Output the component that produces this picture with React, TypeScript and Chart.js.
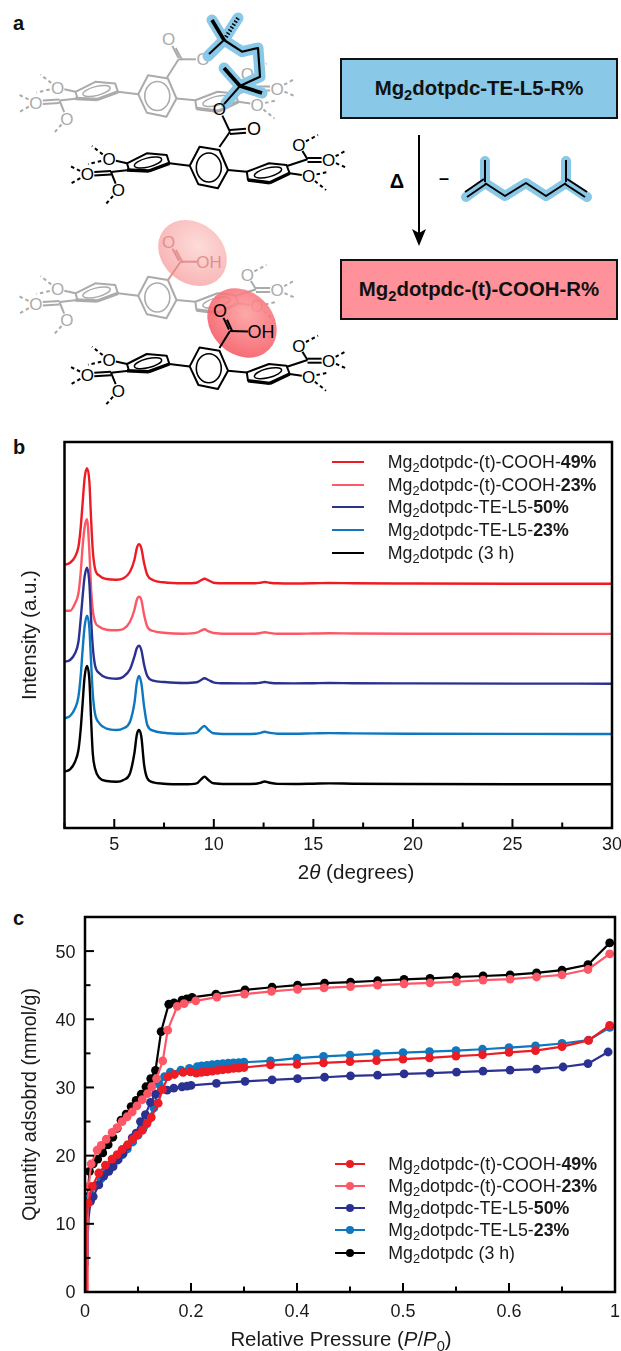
import React, { useEffect, useRef } from "react";
import { Chart, registerables } from "chart.js";

Chart.register(...registerables);

const FONT = '"Liberation Sans", Arial, sans-serif';
const RED = "#ED1C24";
const PINK = "#FD5766";
const NAVY = "#2B3190";
const BLUE = "#0F77C0";
const BLACK = "#000000";

/* ---------- panel b: diffraction patterns ---------- */
const twoTheta = [2.5, 2.78, 3.03, 3.2, 3.31, 3.41, 3.51, 3.63, 3.75, 3.83, 3.92, 4.03, 4.25, 4.62, 5.12, 5.46, 5.79, 6.01, 6.13, 6.24, 6.36, 6.5, 6.66, 6.96, 7.47, 8.47, 9.14, 9.36, 9.53, 9.73, 9.98, 10.65, 11.5, 12.1, 12.35, 12.55, 12.8, 13.2, 14, 15, 15.8, 17, 20, 25, 30];
const pxrdCooh49 = [263, 265.3, 271.3, 281.3, 299.7, 324.7, 349.7, 359.7, 346.3, 311.3, 278, 259.7, 252.3, 249, 248.3, 249.7, 256.3, 268, 279.7, 283.7, 279.7, 264.7, 253, 247.7, 245.7, 244.7, 245.3, 247.7, 249.3, 247.7, 245.3, 244.7, 244.7, 244.7, 245.3, 246, 245.3, 244.7, 244.5, 244.7, 245, 244.7, 244.5, 244.3, 244.2];
const pxrdCooh23 = [217.3, 217.3, 224.7, 234.7, 254.7, 281.3, 300.7, 308.7, 276.3, 241.3, 218, 206.3, 201.3, 198.3, 197.7, 199, 206.3, 218, 228, 231.3, 228, 213, 201.3, 197, 195.3, 194.3, 195.3, 197.3, 198.7, 196.7, 195, 194.3, 194.3, 194.3, 195, 195.7, 195, 194.3, 194.2, 194.5, 194.7, 194.5, 194.3, 194.2, 194.1];
const pxrdTe50 = [166.3, 168, 174.7, 186.3, 208, 231.3, 251.3, 260.3, 244.7, 211.3, 181.3, 163, 154.7, 150.3, 149.3, 151.3, 158.7, 171.3, 179.7, 182.3, 178, 163, 152, 147.3, 146, 145, 145.7, 148, 149.7, 148, 145.7, 144.7, 144.6, 144.7, 145.3, 146, 145.3, 144.7, 144.6, 144.8, 145, 144.8, 144.6, 144.4, 144.3];
const pxrdTe23 = [109.7, 112, 119.7, 131.3, 151.3, 178, 201.3, 212.3, 199.7, 168, 134.7, 114.7, 104.7, 99.3, 98, 99.7, 106.3, 124.7, 144.7, 152, 144.7, 121.3, 103, 97.3, 95.3, 94.3, 95.3, 99.7, 102, 98, 94.7, 94, 94, 94.2, 95.2, 96.2, 95.2, 94.3, 94.2, 94.6, 94.9, 94.6, 94.3, 94.1, 94];
const pxrdParent = [56.3, 58.7, 66.3, 78, 98, 124.7, 151.3, 162, 148, 111.3, 74.7, 59.7, 50.3, 47, 46.3, 48, 54.7, 74.7, 93, 98, 91.3, 63, 49.7, 45.7, 44.3, 43.7, 44.7, 48.7, 51.3, 48, 44.7, 44, 44, 44.2, 45.2, 46.5, 45.2, 44.1, 44, 44.3, 44.6, 44.3, 44, 43.8, 43.7];

/* ---------- panel c: isotherms ---------- */
const pressureTickLabels = ["0", "", "0.2", "", "0.4", "", "0.5", "", "0.6", "", "1"];

const xIsoCooh49 = [0.002, 0.002, 0.002, 0.003, 0.006, 0.014, 0.026, 0.0386, 0.051, 0.0607, 0.07, 0.0807, 0.09, 0.098, 0.108, 0.117, 0.125, 0.138, 0.146, 0.157, 0.1686, 0.185, 0.199, 0.21, 0.22, 0.23, 0.24, 0.25, 0.26, 0.27, 0.28, 0.29, 0.3, 0.35, 0.4, 0.45, 0.5, 0.55, 0.6, 0.65, 0.7, 0.75, 0.8, 0.85, 0.9, 0.95, 0.99];
const yIsoCooh49 = [0, 4, 8, 11, 13, 15.5, 17.45, 18.6, 19.5, 20.15, 20.9, 21.6, 22.4, 23, 23.7, 24.7, 25.6, 27.7, 29.7, 31.6, 31.9, 32.2, 32.3, 32.1, 32.2, 32.3, 32.4, 32.5, 32.6, 32.7, 32.8, 32.85, 32.93, 33.3, 33.4, 33.6, 33.8, 33.95, 34.15, 34.35, 34.6, 34.8, 35.15, 35.4, 36, 36.9, 39.1];

const xIsoCooh23 = [0.005, 0.005, 0.005, 0.005, 0.005, 0.007, 0.0117, 0.023, 0.0305, 0.04, 0.0512, 0.0607, 0.07, 0.0795, 0.089, 0.098, 0.108, 0.118, 0.126, 0.135, 0.1467, 0.156, 0.174, 0.187, 0.209, 0.249, 0.301, 0.352, 0.401, 0.451, 0.501, 0.552, 0.602, 0.651, 0.701, 0.751, 0.802, 0.852, 0.9, 0.949, 0.99];
const yIsoCooh23 = [0, 3, 6, 9, 12, 15.5, 18.8, 20.8, 21.5, 22.4, 23.4, 24.1, 25, 25.7, 26.4, 27.3, 28.2, 29.1, 30.1, 31.3, 33.9, 38.4, 41.9, 42.3, 42.7, 43.25, 43.7, 44.1, 44.4, 44.6, 44.8, 45, 45.2, 45.35, 45.5, 45.75, 45.9, 46.2, 46.5, 47.3, 49.6];

const xIsoTe50 = [0.003, 0.004, 0.005, 0.007, 0.0104, 0.0155, 0.026, 0.0355, 0.045, 0.053, 0.0626, 0.072, 0.0795, 0.089, 0.0965, 0.1046, 0.114, 0.1235, 0.133, 0.155, 0.1675, 0.183, 0.1925, 0.2, 0.248, 0.302, 0.353, 0.401, 0.452, 0.501, 0.552, 0.602, 0.651, 0.701, 0.751, 0.802, 0.852, 0.902, 0.949, 0.987];
const yIsoTe50 = [0, 4, 8, 11, 13.3, 14, 15.7, 17, 17.7, 18.4, 19.4, 20.3, 21.4, 22.6, 23.3, 25, 26, 27.8, 29, 29.6, 29.9, 30.1, 30.2, 30.3, 30.6, 30.9, 31.1, 31.3, 31.5, 31.7, 31.8, 32, 32.1, 32.25, 32.4, 32.55, 32.7, 33, 33.5, 35.2];

const xIsoTe23 = [0.003, 0.004, 0.005, 0.01, 0.02, 0.03, 0.04, 0.05, 0.06, 0.07, 0.08, 0.09, 0.1, 0.11, 0.12, 0.13, 0.14, 0.15, 0.161, 0.181, 0.197, 0.212, 0.22, 0.23, 0.24, 0.25, 0.26, 0.27, 0.28, 0.29, 0.3, 0.35, 0.4, 0.45, 0.5, 0.55, 0.6, 0.65, 0.7, 0.75, 0.8, 0.85, 0.9, 0.95, 0.99];
const yIsoTe23 = [0, 5, 12, 14, 15.6, 16.6, 17.6, 18.5, 19.3, 20.1, 21, 22, 23, 24, 25.3, 27, 30.5, 31.6, 32.25, 32.55, 32.8, 33.05, 33.15, 33.25, 33.35, 33.4, 33.5, 33.55, 33.6, 33.65, 33.7, 33.9, 34.3, 34.55, 34.75, 34.95, 35.1, 35.25, 35.4, 35.6, 35.85, 36.1, 36.45, 36.95, 38.8];

const xIsoParent = [0.002, 0.003, 0.004, 0.005, 0.0085, 0.0155, 0.024, 0.0336, 0.0437, 0.0525, 0.0607, 0.068, 0.0776, 0.087, 0.0965, 0.106, 0.115, 0.124, 0.133, 0.1436, 0.158, 0.168, 0.183, 0.192, 0.202, 0.247, 0.302, 0.353, 0.401, 0.452, 0.501, 0.552, 0.602, 0.651, 0.701, 0.751, 0.802, 0.852, 0.9, 0.949, 0.99];
const yIsoParent = [0, 4, 9, 14, 17.7, 18.8, 19.5, 20.4, 21.6, 22.7, 24, 25.2, 26.1, 27.2, 28.1, 29, 30.1, 31.3, 32.5, 38.2, 42.2, 42.4, 42.8, 43, 43.2, 43.7, 44.3, 44.7, 45, 45.3, 45.45, 45.65, 45.85, 46, 46.2, 46.35, 46.5, 46.8, 47.2, 48, 51.2];

/* ---------- legends ---------- */
const legendStems = ["-(t)-COOH-", "-(t)-COOH-", "-TE-L5-", "-TE-L5-", " (3 h)"];
const legendBold = ["49%", "23%", "50%", "23%", ""];
const legendColors = [RED, PINK, NAVY, BLUE, BLACK];

const zip = (xs: number[], ys: number[]) => xs.map((x, i) => ({ x, y: ys[i] }));

const frameAndTicks = {
  id: "frameAndTicks",
  afterDraw(chart: any) {
    const { ctx, chartArea: a, scales } = chart;
    ctx.save();
    ctx.strokeStyle = "#000";
    ctx.lineCap = "butt";
    ctx.lineWidth = 2;
    const major = 9;
    const minor = 5.5;
    scales.x.ticks.forEach((t: any) => {
      const px = scales.x.getPixelForValue(t.value);
      const len = t.label ? major : minor;
      ctx.beginPath();
      ctx.moveTo(px, a.bottom);
      ctx.lineTo(px, a.bottom - len);
      ctx.stroke();
    });
    if (scales.y.options.ticks.display) {
      scales.y.ticks.forEach((t: any) => {
        const py = scales.y.getPixelForValue(t.value);
        const len = t.label ? major : minor;
        ctx.beginPath();
        ctx.moveTo(a.left, py);
        ctx.lineTo(a.left + len, py);
        ctx.stroke();
      });
    }
    ctx.lineWidth = 2.5;
    ctx.strokeRect(a.left, a.top, a.right - a.left, a.bottom - a.top);
    ctx.restore();
  },
};

function tickFont() {
  return { family: FONT, size: 18 };
}
const noMargins = (h: number | null, w: number | null) => (s: any) => {
  if (h !== null) s.height = h;
  if (w !== null) s.width = w;
  s.paddingLeft = 0;
  s.paddingRight = 0;
  s.paddingTop = 0;
  s.paddingBottom = 0;
};

function PxrdChart() {
  const ref = useRef<HTMLCanvasElement>(null);
  useEffect(() => {
    const sets = [
      { label: "Mg2dotpdc (3 h)", data: pxrdParent, color: BLACK },
      { label: "Mg2dotpdc-TE-L5-23%", data: pxrdTe23, color: BLUE },
      { label: "Mg2dotpdc-TE-L5-50%", data: pxrdTe50, color: NAVY },
      { label: "Mg2dotpdc-(t)-COOH-23%", data: pxrdCooh23, color: PINK },
      { label: "Mg2dotpdc-(t)-COOH-49%", data: pxrdCooh49, color: RED },
    ];
    const chart = new Chart(ref.current!, {
      type: "line",
      data: {
        datasets: sets.map((s) => ({
          label: s.label,
          data: zip(twoTheta, s.data),
          borderColor: s.color,
          borderWidth: 2.4,
          pointRadius: 0,
          cubicInterpolationMode: "monotone" as const,
        })),
      },
      options: {
        animation: false,
        responsive: false,
        events: [],
        layout: { padding: { left: 0, right: 9, top: 12, bottom: 0 } },
        plugins: { legend: { display: false }, tooltip: { enabled: false } },
        scales: {
          x: {
            type: "linear",
            min: 2.5,
            max: 30,
            afterFit: noMargins(72, null),
            grid: { display: false, drawTicks: false },
            border: { display: false },
            ticks: {
              stepSize: 2.5,
              autoSkip: false,
              maxRotation: 0,
              padding: 6,
              color: "#1a1a1a",
              font: tickFont(),
              callback: (v: any) => (Number(v) % 5 === 0 ? String(v) : ""),
            },
          },
          y: {
            min: 0,
            max: 386,
            afterFit: noMargins(null, 64.5),
            grid: { display: false, drawTicks: false },
            border: { display: false },
            ticks: { display: false },
            title: {
              display: true,
              text: "Intensity (a.u.)",
              color: "#1a1a1a",
              font: { family: FONT, size: 20.5 },
              padding: { top: 18, bottom: 0 },
            },
          },
        },
      },
      plugins: [frameAndTicks],
    } as any);
    return () => chart.destroy();
  }, []);
  return <canvas ref={ref} width={621} height={470} style={{ position: "absolute", left: 0, top: 430, display: "block" }} />;
}

function IsothermChart() {
  const ref = useRef<HTMLCanvasElement>(null);
  useEffect(() => {
    const sets = [
      { label: "Mg2dotpdc-(t)-COOH-49%", xs: xIsoCooh49, ys: yIsoCooh49, color: RED },
      { label: "Mg2dotpdc-(t)-COOH-23%", xs: xIsoCooh23, ys: yIsoCooh23, color: PINK },
      { label: "Mg2dotpdc-TE-L5-50%", xs: xIsoTe50, ys: yIsoTe50, color: NAVY },
      { label: "Mg2dotpdc-TE-L5-23%", xs: xIsoTe23, ys: yIsoTe23, color: BLUE },
      { label: "Mg2dotpdc (3 h)", xs: xIsoParent, ys: yIsoParent, color: BLACK },
    ];
    const chart = new Chart(ref.current!, {
      type: "line",
      data: {
        datasets: sets.map((s) => ({
          label: s.label,
          data: zip(s.xs, s.ys),
          borderColor: s.color,
          backgroundColor: s.color,
          borderWidth: 2.2,
          pointBorderWidth: 0,
          pointRadius: (c: any) => ((c.raw?.y ?? 0) < 12.5 ? 0 : 4.4),
          tension: 0,
        })),
      },
      options: {
        animation: false,
        responsive: false,
        events: [],
        layout: { padding: { left: 0, right: 6, top: 12, bottom: 0 } },
        plugins: { legend: { display: false }, tooltip: { enabled: false } },
        scales: {
          x: {
            type: "linear",
            min: 0,
            max: 1,
            afterFit: noMargins(59, null),
            grid: { display: false, drawTicks: false },
            border: { display: false },
            ticks: {
              stepSize: 0.1,
              autoSkip: false,
              maxRotation: 0,
              padding: 9.5,
              color: "#1a1a1a",
              font: tickFont(),
              callback: (v: any) => pressureTickLabels[Math.round(Number(v) * 10)],
            },
          },
          y: {
            min: 0,
            max: 55,
            afterFit: noMargins(null, 85),
            grid: { display: false, drawTicks: false },
            border: { display: false },
            ticks: {
              stepSize: 5,
              autoSkip: false,
              padding: 9.5,
              labelOffset: 1.5,
              color: "#1a1a1a",
              font: tickFont(),
              callback: (v: any) => (Number(v) % 10 === 0 ? String(v) : ""),
            },
            title: {
              display: true,
              text: "Quantity adsobrd (mmol/g)",
              color: "#1a1a1a",
              font: { family: FONT, size: 19.7 },
              padding: { top: 19, bottom: 0 },
            },
          },
        },
      },
      plugins: [frameAndTicks],
    } as any);
    return () => chart.destroy();
  }, []);
  return <canvas ref={ref} width={621} height={446} style={{ position: "absolute", left: 0, top: 905, display: "block" }} />;
}

const subStyle: React.CSSProperties = { fontSize: "72%", verticalAlign: "-0.32em", lineHeight: 0 };

function MgName({ stem, bold }: { stem: string; bold: string }) {
  return (
    <>
      Mg<sub style={subStyle}>2</sub>dotpdc{stem}
      {bold ? <b>{bold}</b> : null}
    </>
  );
}

function Legend({ ys, lineLeft, lineRight, textLeft, marker }: { ys: number[]; lineLeft: number; lineRight: number; textLeft: number; marker: boolean }) {
  return (
    <>
      {ys.map((y, i) => (
        <React.Fragment key={i}>
          <div style={{ position: "absolute", left: lineLeft, top: y - 1.2, width: lineRight - lineLeft, height: 2.4, background: legendColors[i] }} />
          {marker ? (
            <div style={{ position: "absolute", left: (lineLeft + lineRight) / 2 - 4, top: y - 4, width: 8, height: 8, borderRadius: 4, background: legendColors[i] }} />
          ) : null}
          <div style={{ position: "absolute", left: textLeft, top: y - 10, lineHeight: "20px", fontSize: 17.8, color: "#1a1a1a", whiteSpace: "pre" }}>
            <MgName stem={legendStems[i]} bold={legendBold[i]} />
          </div>
        </React.Fragment>
      ))}
    </>
  );
}

/* ---------- panel a: chemical scheme (plain SVG, not data) ---------- */
type Pt = [number, number];
function Bond({ a, b, ta = 0, tb = 0, w = 2, dash, color = "currentColor" }: { a: Pt; b: Pt; ta?: number; tb?: number; w?: number; dash?: string; color?: string }) {
  const dx = b[0] - a[0];
  const dy = b[1] - a[1];
  const l = Math.hypot(dx, dy) || 1;
  return (
    <line x1={a[0] + (dx / l) * ta} y1={a[1] + (dy / l) * ta} x2={b[0] - (dx / l) * tb} y2={b[1] - (dy / l) * tb} stroke={color} strokeWidth={w} strokeDasharray={dash} />
  );
}
function Atom({ p, t, size = 17 }: { p: Pt; t: string; size?: number }) {
  return (
    <text x={p[0]} y={p[1] + size * 0.36} textAnchor="middle" fontSize={size} fontFamily={FONT} fill="currentColor">
      {t}
    </text>
  );
}
function Poly({ pts, w = 2 }: { pts: Pt[]; w?: number }) {
  return <polygon points={pts.map((p) => p.join(",")).join(" ")} fill="none" stroke="currentColor" strokeWidth={w} strokeLinejoin="round" />;
}
function Linker({ dx, dy, color }: { dx: number; dy: number; color: string }) {
  const D = "3.5 3";
  return (
    <g transform={`translate(${dx} ${dy})`} style={{ color }}>
      <Poly pts={[[189.7, 165.7], [199.6, 146.7], [219.4, 150], [228, 170], [217.9, 188.3], [198.4, 184.3]]} />
      <ellipse cx={208.8} cy={167.5} rx={12.5} ry={14.5} fill="none" stroke="currentColor" strokeWidth={1.6} />
      <Bond a={[228, 170]} b={[246.8, 171.7]} />
      <Poly pts={[[246.8, 171.7], [269, 163.3], [286.5, 165], [289.7, 173.3], [269.8, 182.7], [248, 180]]} />
      <Bond a={[248, 180]} b={[269.8, 182.7]} w={3.4} />
      <Bond a={[269.8, 182.7]} b={[289.7, 173.3]} w={3.4} />
      <ellipse cx={268} cy={172.5} rx={14} ry={4.5} transform="rotate(-14 268 172.5)" fill="none" stroke="currentColor" strokeWidth={1.5} />
      <Bond a={[287, 166]} b={[307.5, 159.3]} w={2.2} />
      <Bond a={[307.5, 159.3]} b={[298.8, 145]} tb={7} />
      <Bond a={[307.5, 158]} b={[328.6, 158]} tb={7} />
      <Bond a={[307.5, 162]} b={[328.6, 162]} tb={7} />
      <Bond a={[289.7, 173.3]} b={[308.7, 176]} tb={7} />
      <Atom p={[298.8, 145]} t="O" />
      <Atom p={[328.6, 160]} t="O" />
      <Atom p={[308.7, 176]} t="O" />
      <Bond a={[298.8, 145]} b={[318, 135]} ta={8} dash={D} />
      <Bond a={[328.6, 160]} b={[347, 150]} ta={8} dash={D} />
      <Bond a={[328.6, 160]} b={[347, 168]} ta={8} dash={D} />
      <Bond a={[308.7, 176]} b={[328, 172]} ta={8} dash={D} />
      <Bond a={[308.7, 176]} b={[326, 190]} ta={8} dash={D} />

      <Bond a={[189.7, 165.7]} b={[169.4, 163.3]} />
      <Poly pts={[[169.4, 163.3], [148.8, 171], [129, 170], [127, 163.3], [146.8, 153.3], [166.7, 155]]} />
      <Bond a={[127, 170]} b={[148.8, 171]} w={3.4} />
      <Bond a={[148.8, 171]} b={[169.4, 163.3]} w={3.4} />
      <ellipse cx={148} cy={162.5} rx={14} ry={4.5} transform="rotate(-14 148 162.5)" fill="none" stroke="currentColor" strokeWidth={1.5} />
      <Bond a={[127, 163.3]} b={[109, 159.3]} tb={7} />
      <Bond a={[129, 170]} b={[111, 172]} />
      <Bond a={[111, 171]} b={[87.3, 172.5]} tb={7} />
      <Bond a={[111, 174.5]} b={[87.3, 176]} tb={7} />
      <Bond a={[111, 172]} b={[118.3, 190]} tb={7} />
      <Atom p={[109, 159.3]} t="O" />
      <Atom p={[87.3, 174.3]} t="O" />
      <Atom p={[118.3, 190]} t="O" />
      <Bond a={[109, 159.3]} b={[92, 146]} ta={8} dash={D} />
      <Bond a={[109, 159.3]} b={[88, 164]} ta={8} dash={D} />
      <Bond a={[87.3, 174.3]} b={[70, 166]} ta={8} dash={D} />
      <Bond a={[87.3, 174.3]} b={[70, 184]} ta={8} dash={D} />
      <Bond a={[118.3, 190]} b={[105, 205]} ta={8} dash={D} />
    </g>
  );
}
function BoxLabel({ top, bg, stem }: { top: number; bg: string; stem: string }) {
  return (
    <div style={{ position: "absolute", left: 340, top, width: 278, height: 61, boxSizing: "border-box", background: bg, border: "2.5px solid #111", display: "flex", alignItems: "center", justifyContent: "center", fontWeight: 700, fontSize: 20.4, color: "#111", whiteSpace: "pre" }}>
      <span>
        Mg<sub style={subStyle}>2</sub>dotpdc{stem}
      </span>
    </div>
  );
}
const GREY = "#ABABAB";
const HILITE = "#89C8E6";

function Scheme() {
  return (
    <svg width={621} height={430} style={{ position: "absolute", left: 0, top: 0 }}>
      <defs>
        <radialGradient id="redStrong" cx="45%" cy="35%" r="70%">
          <stop offset="0%" stopColor="#FC9D9D" />
          <stop offset="100%" stopColor="#F55560" />
        </radialGradient>
        <radialGradient id="redPale" cx="50%" cy="35%" r="70%">
          <stop offset="0%" stopColor="#FBD6D2" />
          <stop offset="100%" stopColor="#F8A3A5" />
        </radialGradient>
      </defs>

      {/* upper pair */}
      <Linker dx={-51.5} dy={-71.5} color={GREY} />
      <g style={{ color: GREY }}>
        <Bond a={[166.7, 78]} b={[178.6, 59.3]} />
        <Bond a={[178.6, 58]} b={[168.6, 39]} tb={8} />
        <Bond a={[182, 60]} b={[172, 41]} tb={8} />
        <Bond a={[178.6, 59.3]} b={[203, 59.3]} tb={7} />
        <Atom p={[168.6, 39]} t="O" />
        <Atom p={[203, 59.3]} t="O" />
      </g>
      <polyline points="208,56 224,40 242,51.7 258,48 260,76.7 240,86 226,103" fill="none" stroke={HILITE} strokeWidth={11} strokeLinejoin="round" strokeLinecap="round" />
      <polyline points="212,20 224,40 238,18" fill="none" stroke={HILITE} strokeWidth={11} strokeLinejoin="round" strokeLinecap="round" />
      <polyline points="224,68 240,86 262,93" fill="none" stroke={HILITE} strokeWidth={11} strokeLinejoin="round" strokeLinecap="round" />
      <g style={{ color: "#000" }}>
        <Bond a={[209, 54]} b={[224, 40]} />
        <polyline points="224,40 242,51.7 258,48 260,76.7 240,86" fill="none" stroke="#000" strokeWidth={2.2} strokeLinejoin="round" />
        <Bond a={[224, 40]} b={[212, 20]} w={3.6} />
        <Bond a={[224, 40]} b={[238, 18]} w={4} dash="1.5 2" />
        <Bond a={[240, 86]} b={[224, 68]} w={3.8} />
        <Bond a={[240, 86]} b={[262, 93]} w={3.8} />
        <Bond a={[240, 86]} b={[219.4, 109.3]} tb={7} />
      </g>
      <Linker dx={0} dy={0} color="#000" />
      <g style={{ color: "#000" }}>
        <Bond a={[219.4, 147]} b={[230, 131.7]} />
        <Bond a={[230, 131.7]} b={[219.4, 109.3]} tb={7} />
        <Bond a={[230, 130]} b={[254, 128]} tb={8} />
        <Bond a={[230, 134]} b={[254, 132]} tb={8} />
        <Atom p={[219.4, 109.3]} t="O" />
        <Atom p={[254, 129]} t="O" size={18} />
      </g>

      {/* lower pair */}
      <Linker dx={-51.5} dy={130} color={GREY} />
      <ellipse cx={192.5} cy={253} rx={37} ry={30} transform="rotate(40 192.5 253)" fill="url(#redPale)" opacity={0.85} />
      <g style={{ color: "#E38F8D" }}>
        <Bond a={[168, 280]} b={[180.6, 261.7]} />
        <Bond a={[179, 260.7]} b={[168.6, 241.7]} tb={8} />
        <Bond a={[182.6, 262.7]} b={[172.1, 243]} tb={8} />
        <Bond a={[180.6, 261.7]} b={[209, 261.7]} tb={12} />
        <Atom p={[168.6, 241.7]} t="O" />
        <Atom p={[209, 261.7]} t="OH" />
      </g>
      <Linker dx={0} dy={200.7} color="#000" />
      <ellipse cx={242} cy={323} rx={38} ry={31} transform="rotate(45 242 323)" fill="url(#redStrong)" opacity={0.88} />
      <g style={{ color: "#000" }}>
        <Bond a={[219.4, 348]} b={[230, 331]} />
        <Bond a={[229, 329.5]} b={[220, 310.7]} tb={8} />
        <Bond a={[232.4, 331.5]} b={[223.6, 312.5]} tb={8} />
        <Bond a={[230, 331]} b={[261, 331.7]} tb={13} />
        <Atom p={[220, 310.7]} t="O" size={18} />
        <Atom p={[261, 331.7]} t="OH" size={18} />
      </g>

      {/* reaction arrow and by-product */}
      <g style={{ color: "#000" }}>
        <Bond a={[419, 135]} b={[419, 234]} w={2} />
        <polygon points="412,229 419,246 426,229 419,233" fill="#000" />
        <text x={397} y={188} textAnchor="middle" fontSize={20} fontWeight={700} fontFamily={FONT} fill="#000">
          Δ
        </text>
        <text x={444} y={184} textAnchor="middle" fontSize={18} fontWeight={700} fontFamily={FONT} fill="#000">
          –
        </text>
      </g>
      <polyline points="466,197 485,183 505,196 526,183 546,196 566,183 587,197" fill="none" stroke={HILITE} strokeWidth={10} strokeLinejoin="round" strokeLinecap="round" />
      <polyline points="485,183 485,161" fill="none" stroke={HILITE} strokeWidth={10} strokeLinecap="round" />
      <polyline points="566,183 566,161" fill="none" stroke={HILITE} strokeWidth={10} strokeLinecap="round" />
      <polyline points="485,183 505,196 526,183 546,196 566,183" fill="none" stroke="#000" strokeWidth={2} strokeLinejoin="round" />
      <g style={{ color: "#000" }}>
        <Bond a={[485, 182]} b={[485, 160]} />
        <Bond a={[566, 182]} b={[566, 160]} />
        <Bond a={[484, 179]} b={[465, 192]} />
        <Bond a={[486, 184]} b={[467, 197]} />
        <Bond a={[567, 179]} b={[587, 192]} />
        <Bond a={[565, 184]} b={[585, 197]} />
      </g>
    </svg>
  );
}

const panelLabel = (t: string, top: number) => (
  <div style={{ position: "absolute", left: 13, top, fontWeight: 700, fontSize: 20, lineHeight: "24px", color: "#111" }}>{t}</div>
);

export default function App() {
  return (
    <div style={{ position: "absolute", left: 0, top: 0, width: 621, height: 1351, overflow: "hidden", background: "#fff", fontFamily: FONT }}>
      <Scheme />
      <BoxLabel top={58} bg="#89C8E6" stem="-TE-L5-R%" />
      <BoxLabel top={258.5} bg="#FF919B" stem="-(t)-COOH-R%" />
      {panelLabel("a", 11)}
      {panelLabel("b", 435)}
      {panelLabel("c", 906)}

      <PxrdChart />
      <Legend ys={[462, 484.7, 507.3, 530, 553.3]} lineLeft={332} lineRight={364} textLeft={387.7} marker={false} />
      <div style={{ position: "absolute", left: 256, width: 200, top: 859.5, lineHeight: "24px", textAlign: "center", fontSize: 20.6, color: "#1a1a1a" }}>
        2<i>θ</i> (degrees)
      </div>

      <IsothermChart />
      <Legend ys={[1164, 1186.3, 1208, 1230.3, 1252.7]} lineLeft={334.5} lineRight={365} textLeft={388.3} marker={true} />
      <div style={{ position: "absolute", left: 191, width: 300, top: 1327, lineHeight: "24px", textAlign: "center", fontSize: 20.4, color: "#1a1a1a", whiteSpace: "pre" }}>
        Relative Pressure (<i>P</i>/<i>P</i>
        <sub style={subStyle}>0</sub>)
      </div>
    </div>
  );
}
